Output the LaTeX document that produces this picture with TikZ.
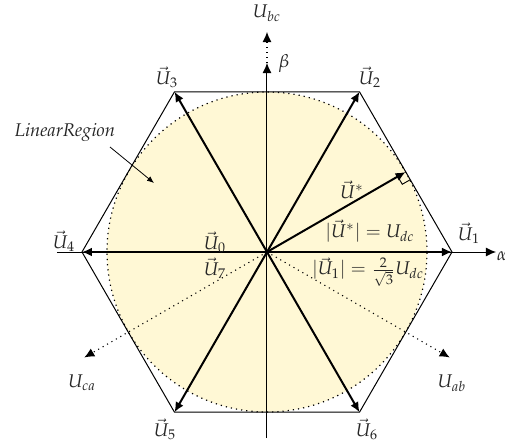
\documentclass[tikz,border=0pt]{standalone}
\usepackage[T1]{fontenc}
\usepackage{mathpazo}
\usetikzlibrary{arrows.meta,calc}
\definecolor{regionfill}{HTML}{FFF8D5}
\tikzset{
  thinline/.style={line width=0.5pt, black},
  vec/.style={line width=1pt, black, -{Latex[length=5pt,width=4.5pt]}},
  axisarrow/.style={line width=0.5pt, black, -{Latex[length=5pt,width=4.5pt]}},
  dotarrow/.style={line width=0.55pt, black, dotted, -{Latex[length=5pt,width=4.5pt]}},
  lbl/.style={inner sep=0pt, text=black!85, font=\fontsize{9.2}{11}\selectfont},
}
\begin{document}
\begin{tikzpicture}[x=0.5pt,y=0.5pt]
\useasboundingbox (0,0) rectangle (505,441);
\coordinate (O) at (267,189);
% circle region
\fill[regionfill] (O) circle (160);
\draw[line width=0.6pt, dotted] (O) circle (160);
% hexagon vertices
\foreach \i/\a in {1/0,2/60,3/120,4/180,5/240,6/300}
  \coordinate (V\i) at ($(O)+(\a:185)$);
\draw[thinline] (V1) -- (V2) -- (V3) -- (V4) -- (V5) -- (V6) -- cycle;
% axes
\coordinate (Hl) at (57,189);
\coordinate (Hr) at (496,189);
\coordinate (Vb) at (267,3);
\coordinate (Vt) at (267,378);
\coordinate (Vbc) at (267,409);
\draw[axisarrow] (Hl) -- (Hr);
\draw[axisarrow] (Vb) -- (Vt);
\draw[dotarrow] (Vt) -- (Vbc);
% line-voltage directions
\coordinate (Pab) at ($(O)+(-30:211)$);
\coordinate (Pca) at ($(O)+(210:211)$);
\draw[dotarrow] (O) -- (Pab);
\draw[dotarrow] (O) -- (Pca);
% switching vectors
\foreach \i in {1,...,6}
  \draw[vec] (O) -- (V\i);
% reference vector
\coordinate (Us) at ($(O)+(30:160)$);
\draw[vec] (O) -- (Us);
\coordinate (Ra) at ($(Us)+(210:9)$);
\coordinate (Rb) at ($(Us)+(-60:9)$);
\coordinate (Rc) at ($(Ra)+(-60:9)$);
\draw[line width=0.45pt] (Ra) -- (Rc) -- (Rb);
% labels
\node[lbl] (lbc) at (267,428) {$U_{bc}$};
\node[lbl] (lbeta) at (284,378) {$\beta$};
\node[lbl] (lalpha) at (502,185) {$\alpha$};
\node[lbl] (l1) at (469,208) {$\vec{U}_1$};
\node[lbl] (l2) at (370,364) {$\vec{U}_2$};
\node[lbl] (l3) at (167,364) {$\vec{U}_3$};
\node[lbl] (l4) at (64,200) {$\vec{U}_4$};
\node[lbl] (l5) at (165,12) {$\vec{U}_5$};
\node[lbl] (l6) at (367,12) {$\vec{U}_6$};
\node[lbl] (l0) at (215,199) {$\vec{U}_0$};
\node[lbl] (l7) at (215,173) {$\vec{U}_7$};
\node[lbl] (ls) at (352,251) {$\vec{U}^{*}$};
\node[lbl] (lmag) at (370,210) {$|\vec{U}^{*}| = U_{dc}$};
\node[lbl] (lmag1) at (368,169) {$|\vec{U}_1| = \frac{2}{\sqrt{3}}U_{dc}$};
\node[lbl] (lca) at (82,58) {$U_{ca}$};
\node[lbl] (lab) at (452,58) {$U_{ab}$};
\node[lbl] (lreg) at (65,309) {\itshape LinearRegion};
\coordinate (Ra1) at (110,294);
\coordinate (Ra2) at (154,258);
\draw[line width=0.4pt, -{Latex[length=3.5pt,width=2.8pt]}] (Ra1) -- (Ra2);
\end{tikzpicture}
\end{document}
